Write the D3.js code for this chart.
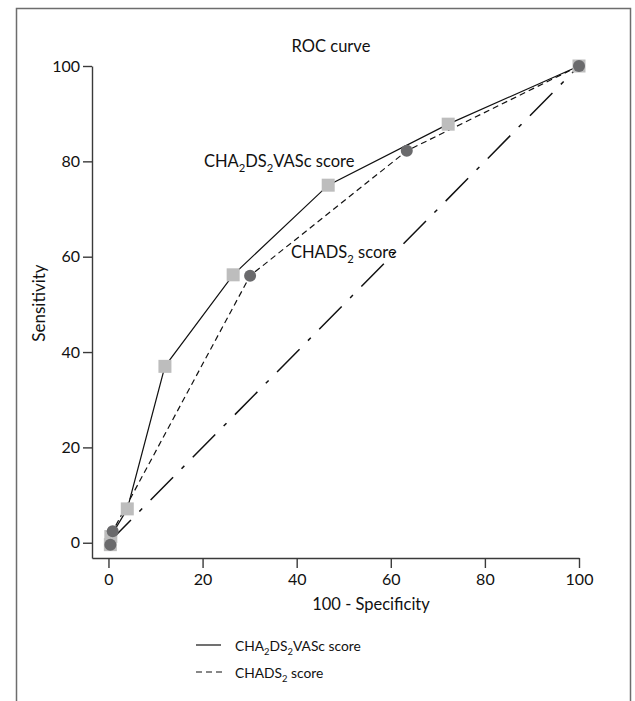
<!DOCTYPE html>
<html>
<head>
<meta charset="utf-8">
<script src="https://cdn.jsdelivr.net/npm/d3@7"></script>
<style>
  body { margin: 0; background: #fff; }
  svg { display: block; font-family: Lato, "Open Sans", sans-serif; }
  text { fill: #111; }
</style>
</head>
<body>
<svg></svg>
<script>
// CHA2DS2VASc score points (100 - specificity, sensitivity)
const vascX = [0.4, 0.5, 4, 12, 26.5, 46.7, 72.2, 100];
const vascY = [-0.4, 1.3, 7.1, 37, 56.2, 75, 87.8, 100];
// CHADS2 score points
const chadsX = [0.4, 0.9, 30.1, 63.4, 100];
const chadsY = [-0.4, 2.4, 56, 82.2, 100];
// reference diagonal
const diagX = [0, 100];
const diagY = [0, 100];

const tickValues = [0, 20, 40, 60, 80, 100];

const toPoints = (xs, ys) => xs.map((v, i) => ({ x: v, y: ys[i] }));

document.addEventListener("DOMContentLoaded", function() {
    drawChart();
});

function drawChart() {
    const svgWidth = 635, svgHeight = 701;

    const svg = d3.select("svg")
        .attr("width", svgWidth)
        .attr("height", svgHeight);

    // outer frame, open at the bottom
    svg.append("rect")
        .attr("x", 16.5).attr("y", 8.5)
        .attr("width", 614).attr("height", 740)
        .attr("fill", "none")
        .attr("stroke", "#6d6d6d")
        .attr("stroke-width", 1.5);

    const x = d3.scaleLinear().domain([-3.5, 100]).range([92, 579]);
    const y = d3.scaleLinear().domain([-3.2, 100]).range([558, 66]);

    const xAxis = svg.append("g")
        .attr("transform", "translate(0," + y(-3.2) + ")")
        .call(d3.axisBottom(x).tickValues(tickValues).tickSize(10).tickSizeOuter(0).tickPadding(6));

    const yAxis = svg.append("g")
        .attr("transform", "translate(" + x(-3.5) + ",0)")
        .call(d3.axisLeft(y).tickValues(tickValues).tickSize(9).tickSizeOuter(0).tickPadding(3));

    [xAxis, yAxis].forEach(a => {
        a.selectAll("path, line").attr("stroke", "#3a3a3a").attr("stroke-width", 1.4);
        a.selectAll("text").attr("font-size", 16).attr("font-family", "Lato").attr("fill", "#111");
    });

    svg.append("text")
        .attr("x", 331).attr("y", 52)
        .attr("text-anchor", "middle")
        .attr("font-size", 16.5)
        .text("ROC curve");

    svg.append("text")
        .attr("x", 371).attr("y", 610)
        .attr("text-anchor", "middle")
        .attr("font-size", 16.5)
        .text("100 - Specificity");

    svg.append("text")
        .attr("transform", "translate(45,303) rotate(-90)")
        .attr("text-anchor", "middle")
        .attr("font-size", 17)
        .text("Sensitivity");

    const line = d3.line()
        .x(d => x(d.x))
        .y(d => y(d.y));

    svg.append("path")
        .datum(toPoints(diagX, diagY))
        .attr("fill", "none")
        .attr("stroke", "#111")
        .attr("stroke-width", 1.5)
        .attr("stroke-dasharray", "32,12,4,12")
        .attr("d", line);

    svg.append("path")
        .datum(toPoints(chadsX, chadsY))
        .attr("fill", "none")
        .attr("stroke", "#111")
        .attr("stroke-width", 1.2)
        .attr("stroke-dasharray", "6,4")
        .attr("d", line);

    svg.append("path")
        .datum(toPoints(vascX, vascY))
        .attr("fill", "none")
        .attr("stroke", "#111")
        .attr("stroke-width", 1.2)
        .attr("d", line);

    const sq = 13;
    svg.append("g").selectAll("rect")
        .data(toPoints(vascX, vascY))
        .join("rect")
        .attr("x", d => x(d.x) - sq / 2)
        .attr("y", d => y(d.y) - sq / 2)
        .attr("width", sq).attr("height", sq)
        .attr("fill", "#bdbdbd");

    svg.append("g").selectAll("circle")
        .data(toPoints(chadsX, chadsY))
        .join("circle")
        .attr("cx", d => x(d.x))
        .attr("cy", d => y(d.y))
        .attr("r", 6)
        .attr("fill", "#6a6a6c");

    // labels with subscripts
    function subLabel(g, xPos, yPos, size, parts) {
        const t = g.append("text")
            .attr("x", xPos).attr("y", yPos)
            .attr("font-size", size);
        parts.forEach(p => {
            if (p.sub) {
                t.append("tspan").attr("font-size", size * 0.68).attr("dy", size * 0.28).text(p.t);
            } else if (p.back) {
                t.append("tspan").attr("dy", -size * 0.28).text(p.t);
            } else {
                t.append("tspan").text(p.t);
            }
        });
        return t;
    }

    const vascParts = [
        { t: "CHA" }, { t: "2", sub: true }, { t: "DS", back: true },
        { t: "2", sub: true }, { t: "VASc score", back: true }
    ];
    const chadsParts = [
        { t: "CHADS" }, { t: "2", sub: true }, { t: " score", back: true }
    ];

    subLabel(svg, 204, 167, 16.5, vascParts);
    subLabel(svg, 291, 258, 16.5, chadsParts);

    // legend
    const legend = svg.append("g");
    legend.append("line")
        .attr("x1", 196).attr("x2", 221)
        .attr("y1", 645).attr("y2", 645)
        .attr("stroke", "#111").attr("stroke-width", 1.2);
    legend.append("line")
        .attr("x1", 196).attr("x2", 222)
        .attr("y1", 672).attr("y2", 672)
        .attr("stroke", "#111").attr("stroke-width", 1.2)
        .attr("stroke-dasharray", "6,4");
    subLabel(legend, 235, 651, 13.8, vascParts);
    subLabel(legend, 235, 678, 13.8, chadsParts);
}
</script>
</body>
</html>
